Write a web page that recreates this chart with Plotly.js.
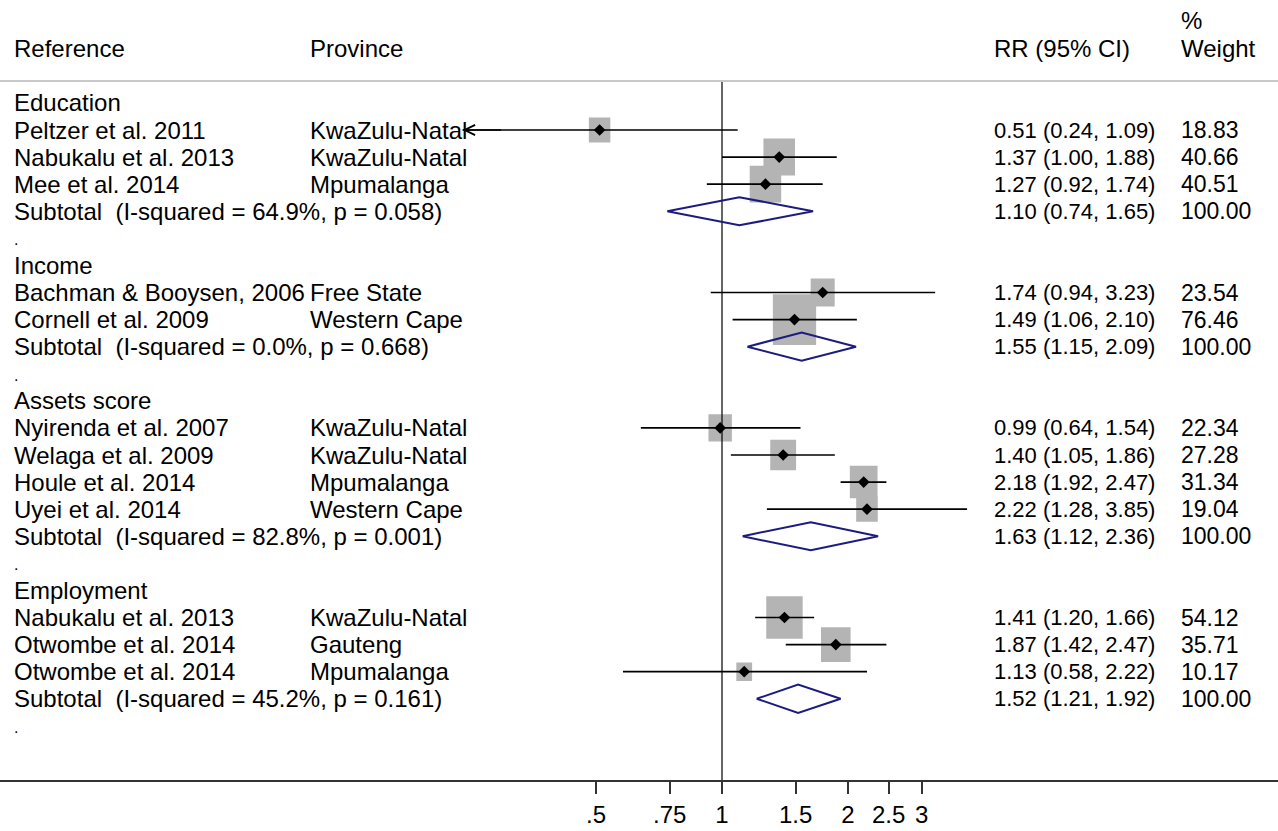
<!DOCTYPE html>
<html><head><meta charset="utf-8">
<script src="https://cdn.plot.ly/plotly-3.0.1.min.js"></script>
<style>html,body{margin:0;padding:0;background:#fff}#chart{width:1278px;height:831px}</style>
</head><body><div id="chart"></div>
<script>
// ---------- data ----------
const groups = ["Education", "Income", "Assets score", "Employment"];
const studyGroup = [0, 0, 0, 1, 1, 2, 2, 2, 2, 3, 3, 3];
const studies = ["Peltzer et al. 2011", "Nabukalu et al. 2013", "Mee et al. 2014",
  "Bachman & Booysen, 2006", "Cornell et al. 2009",
  "Nyirenda et al. 2007", "Welaga et al. 2009", "Houle et al. 2014", "Uyei et al. 2014",
  "Nabukalu et al. 2013", "Otwombe et al. 2014", "Otwombe et al. 2014"];
const provinces = ["KwaZulu-Natal", "KwaZulu-Natal", "Mpumalanga",
  "Free State", "Western Cape",
  "KwaZulu-Natal", "KwaZulu-Natal", "Mpumalanga", "Western Cape",
  "KwaZulu-Natal", "Gauteng", "Mpumalanga"];
const rr = [0.51, 1.37, 1.27, 1.74, 1.49, 0.99, 1.40, 2.18, 2.22, 1.41, 1.87, 1.13];
const lower = [0.24, 1.00, 0.92, 0.94, 1.06, 0.64, 1.05, 1.92, 1.28, 1.20, 1.42, 0.58];
const upper = [1.09, 1.88, 1.74, 3.23, 2.10, 1.54, 1.86, 2.47, 3.85, 1.66, 2.47, 2.22];
const weights = [18.83, 40.66, 40.51, 23.54, 76.46, 22.34, 27.28, 31.34, 19.04, 54.12, 35.71, 10.17];
const subI2 = ["64.9%", "0.0%", "82.8%", "45.2%"];
const subP = ["0.058", "0.668", "0.001", "0.161"];
const subRR = [1.10, 1.55, 1.63, 1.52];
const subLower = [0.74, 1.15, 1.12, 1.21];
const subUpper = [1.65, 2.09, 2.36, 1.92];
const subWeight = [100.00, 100.00, 100.00, 100.00];
const tickVals = [0.5, 0.75, 1, 1.5, 2, 2.5, 3];
const tickText = [".5", ".75", "1", "1.5", "2", "2.5", "3"];
const headers = ["Reference", "Province", "RR (95% CI)", "% Weight"];
const nullValue = 1;
const axisMin = 0.25; // CIs below this are truncated with an arrow

// ---------- layout constants ----------
const W = 1278, H = 831;
const colPx = [12, 308, 992, 1179];
const FONT = "Liberation Sans, Arial, sans-serif";
const boxKx = 0.01361, boxKy = 0.107, diamondH = 0.52;

const fmt = v => v.toFixed(2);
const esc = s => s.replace(/&/g, "&amp;");

// ---------- build rows ----------
const ann = [];
function addText(col, y, text, size) {
  ann.push({xref: "paper", yref: "y", x: colPx[col] / W, y: y, xanchor: "left", yanchor: "middle",
    text: esc(text), showarrow: false,
    font: {family: FONT, size: size || 24, color: "#000"}});
}
const studyRow = [], subRow = [];
let r = 0;
groups.forEach((g, gi) => {
  addText(0, r, g); r++;
  studies.forEach((s, i) => {
    if (studyGroup[i] !== gi) return;
    studyRow[i] = r;
    addText(0, r, s);
    addText(1, r, provinces[i]);
    addText(2, r, fmt(rr[i]) + " (" + fmt(lower[i]) + ", " + fmt(upper[i]) + ")", 22);
    addText(3, r, fmt(weights[i]), 23);
    r++;
  });
  subRow[gi] = r;
  addText(0, r, "Subtotal  (I-squared = " + subI2[gi] + ", p = " + subP[gi] + ")");
  addText(2, r, fmt(subRR[gi]) + " (" + fmt(subLower[gi]) + ", " + fmt(subUpper[gi]) + ")", 22);
  addText(3, r, fmt(subWeight[gi]), 23);
  r++;
  addText(0, r + 0.05, ".", 16); r++;
});
// headers
addText(0, -2, headers[0]);
addText(1, -2, headers[1]);
addText(2, -2, headers[2]);
addText(3, -3.05, headers[3].split(" ")[0]);
addText(3, -2, headers[3].split(" ")[1]);

// ---------- traces ----------
const bx = [], by = [];
studies.forEach((s, i) => {
  const f = Math.exp(boxKx * Math.sqrt(weights[i]));
  const h = boxKy * Math.sqrt(weights[i]);
  const y = studyRow[i];
  bx.push(rr[i] / f, rr[i] * f, rr[i] * f, rr[i] / f, rr[i] / f, null);
  by.push(y - h, y - h, y + h, y + h, y - h, null);
});
const cx = [], cy = [];
studies.forEach((s, i) => { cx.push(lower[i], upper[i], null); cy.push(studyRow[i], studyRow[i], null); });
const dx = [], dy = [];
groups.forEach((g, gi) => {
  const y = subRow[gi];
  dx.push(subLower[gi], subRR[gi], subUpper[gi], subRR[gi], subLower[gi], null);
  dy.push(y, y - diamondH, y, y + diamondH, y, null);
});

const traces = [
  {x: bx, y: by, mode: "lines", fill: "toself", fillcolor: "#b4b4b4", line: {width: 0, color: "#b4b4b4"}, hoverinfo: "skip"},
  {x: [nullValue, nullValue], y: [-0.81, 25], mode: "lines", line: {color: "#000", width: 1.2}, hoverinfo: "skip"},
  {x: cx, y: cy, mode: "lines", line: {color: "#000", width: 1.6}, hoverinfo: "skip"},
  {x: rr, y: studyRow, mode: "markers", marker: {symbol: "diamond", size: 9, color: "#000"}},
  {x: dx, y: dy, mode: "lines", line: {color: "#1c1c80", width: 2}, hoverinfo: "skip"}
];

// truncation arrows
studies.forEach((s, i) => {
  if (lower[i] < axisMin) {
    ann.push({x: Math.log10(lower[i]), y: studyRow[i], xref: "x", yref: "y", ax: 40, ay: 0, text: "",
      showarrow: true, arrowhead: 5, arrowsize: 1.35, arrowwidth: 1.5, arrowcolor: "#000", standoff: 0});
  }
});

const pxPerDecade = 418.6, onePx = 722;
const layout = {
  width: W, height: H, showlegend: false,
  margin: {l: 0, r: 0, t: 0, b: 51, pad: 0},
  paper_bgcolor: "#fff", plot_bgcolor: "#fff",
  xaxis: {type: "log", range: [-onePx / pxPerDecade, (W - onePx) / pxPerDecade],
    tickvals: tickVals, ticktext: tickText, ticks: "outside", ticklen: 12, tickwidth: 2, tickcolor: "#333",
    showline: true, linewidth: 2, linecolor: "#333", showgrid: false, zeroline: false,
    tickfont: {family: FONT, size: 24, color: "#000"}, fixedrange: true},
  yaxis: {range: [25, -3.8], visible: false, fixedrange: true},
  shapes: [{type: "line", xref: "paper", x0: 0, x1: 1, yref: "y", y0: -0.81, y1: -0.81, line: {color: "#c8c8c8", width: 2}}],
  annotations: ann
};
Plotly.newPlot("chart", traces, layout, {displayModeBar: false, staticPlot: true});
</script></body></html>
